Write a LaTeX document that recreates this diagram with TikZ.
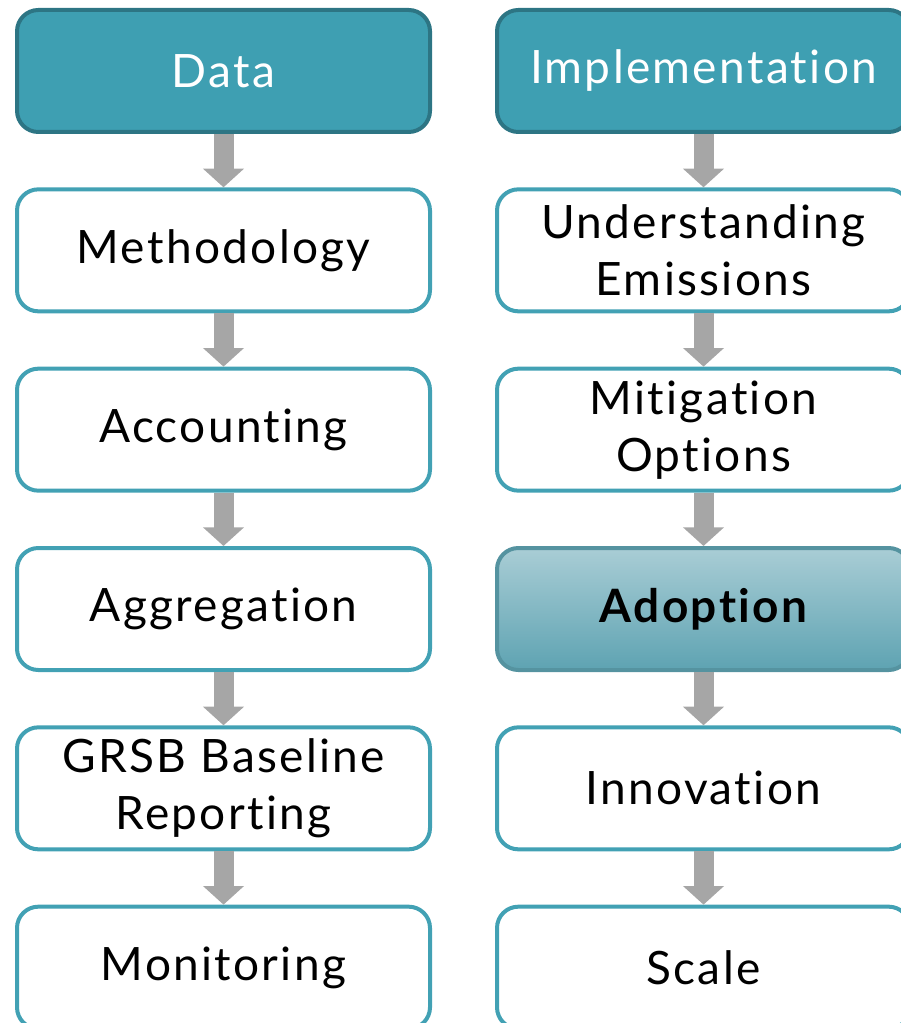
\documentclass[tikz,border=0pt]{standalone}
\usepackage{fontspec}
\setmainfont{Lato}[Ligatures=NoCommon,LetterSpace=5]
\usepackage{tikz}
\usepackage{xcolor}
\usetikzlibrary{arrows.meta}
\usetikzlibrary{positioning}

\definecolor{headfill}{HTML}{3E9FB2}
\definecolor{headline}{HTML}{2D7584}
\definecolor{boxline}{HTML}{42A1B4}
\definecolor{flowgray}{HTML}{A6A6A6}
\definecolor{adopttop}{HTML}{A9CDD5}
\definecolor{adoptbot}{HTML}{5EA3B2}

\begin{document}
\begin{tikzpicture}[x=0.75pt,y=-0.75pt,node distance=40pt,
                box/.style={rectangle,rounded corners=16pt,draw=boxline,line width=3pt,
                  fill=white,minimum width=309.75pt,minimum height=91.5pt,inner sep=2pt,
                  align=center,font=\fontsize{34.5}{42.75}\selectfont},
                head/.style={box,fill=headfill,draw=headline,text=white},
                focus/.style={box,top color=adopttop,bottom color=adoptbot,draw=adoptbot!90!black,
                  font=\fontsize{34.5}{42.75}\selectfont\bfseries},
                flow/.style={color=flowgray,line width=15pt,
                  -{Triangle[width=30pt,length=14pt]}}]

  \useasboundingbox (0,0) rectangle (900,1023);

  % left column
  \node[head] (data) at (223.5,71) {Data};
  \node[box] (method) [below=of data] {Methodology};
  \node[box] (account) [below=of method] {Accounting};
  \node[box] (aggr) [below=of account] {Aggregation};
  \node[box] (grsb) [below=of aggr] {GRSB Baseline\\Reporting};
  \node[box] (monitor) [below=of grsb] {Monitoring};

  % right column
  \node[head] (impl) at (703.5,71) {Implementation};
  \node[box] (underst) [below=of impl] {Understanding\\Emissions};
  \node[box] (mitig) [below=of underst] {Mitigation\\Options};
  \node[focus] (adopt) [below=of mitig] {Adoption};
  \node[box] (innov) [below=of adopt] {Innovation};
  \node[box] (scale) [below=of innov] {Scale};

  \path[flow]
    (data) edge (method)
    (method) edge (account)
    (account) edge (aggr)
    (aggr) edge (grsb)
    (grsb) edge (monitor)
    (impl) edge (underst)
    (underst) edge (mitig)
    (mitig) edge (adopt)
    (adopt) edge (innov)
    (innov) edge (scale);
\end{tikzpicture}
\end{document}
